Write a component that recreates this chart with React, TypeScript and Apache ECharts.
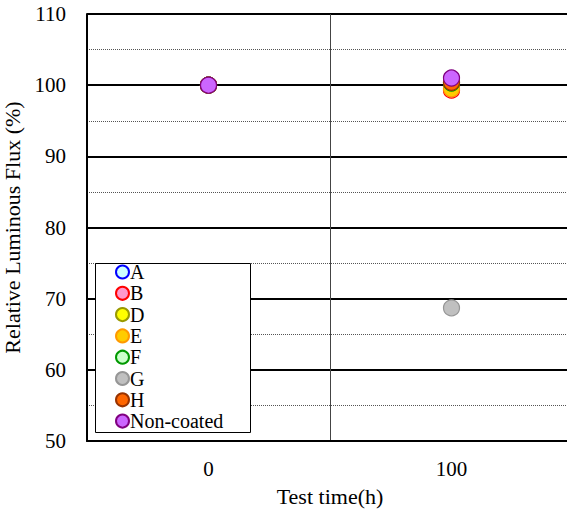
import React, { useEffect, useRef } from "react";
import * as echarts from "echarts";

const categories = ["0", "100"];
const seriesNames = ["A", "B", "D", "E", "F", "G", "H", "Non-coated"];
const valuesA = [100, 100.0];
const valuesB = [100, 99.3];
const valuesD = [100, 99.8];
const valuesE = [100, 99.5];
const valuesF = [100, 100.3];
const valuesG = [100, 68.7];
const valuesH = [100, 100.4];
const valuesNonCoated = [100, 101.0];
const fills = ["#ccffff", "#ff99cc", "#ffff00", "#ffcc00", "#ccffcc", "#c0c0c0", "#ff6600", "#cc66ff"];
const borders = ["#0000ff", "#ff0000", "#999900", "#ff9900", "#009900", "#969696", "#993300", "#800080"];
const allValues = [valuesA, valuesB, valuesD, valuesE, valuesF, valuesG, valuesH, valuesNonCoated];

const FONT = "'Liberation Serif', 'Times New Roman', Times, serif";

export default function App() {
  const ref = useRef<HTMLDivElement>(null);
  useEffect(() => {
    if (!ref.current) return;
    const chart = echarts.init(ref.current, undefined, { renderer: "svg" });
    chart.setOption({
      animation: false,
      backgroundColor: "#fff",
      textStyle: { fontFamily: FONT },
      grid: { left: 87, top: 14, width: 486, height: 427, containLabel: false, outerBoundsMode: "none" },
      xAxis: {
        type: "category",
        data: categories,
        boundaryGap: true,
        axisLine: { show: true, lineStyle: { color: "#000", width: 2 } },
        axisTick: { show: false },
        axisLabel: { fontSize: 21, color: "#000", margin: 17, fontFamily: FONT },
        splitLine: { show: true, lineStyle: { color: "#444", width: 1 } },
        name: "Test time(h)",
        nameLocation: "middle",
        nameGap: 44,
        nameTextStyle: { fontSize: 22, color: "#000", fontFamily: FONT },
      },
      yAxis: {
        type: "value",
        min: 50,
        max: 110,
        interval: 10,
        axisLine: { show: true, lineStyle: { color: "#000", width: 2 } },
        axisTick: { show: false },
        axisLabel: { fontSize: 21, color: "#000", margin: 21, fontFamily: FONT },
        splitLine: { show: true, lineStyle: { color: "#000", width: 2 } },
        minorTick: { show: false, splitNumber: 2 },
        minorSplitLine: { show: true, lineStyle: { color: "#555", width: 1, type: [1, 1] } },
        name: "Relative Luminous Flux (%)",
        nameLocation: "middle",
        nameGap: 57,
        nameTextStyle: { fontSize: 22, color: "#000", fontFamily: FONT },
      },
      graphic: [
        {
          type: "rect",
          z: 3,
          shape: { x: 95.5, y: 263.5, width: 155, height: 169 },
          style: { fill: "#fff", stroke: "#000", lineWidth: 1 },
        },
      ],
      legend: {
        show: true,
        orient: "vertical",
        left: 115,
        top: 262,
        z: 5,
        itemWidth: 13,
        itemHeight: 13,
        itemGap: 1.3,
        icon: "circle",
        padding: 0,
        data: seriesNames,
        textStyle: { fontSize: 20, color: "#000", fontFamily: FONT, padding: [0, 0, 0, -4] },
      },
      series: seriesNames.map((name, i) => ({
        name,
        type: "scatter",
        data: allValues[i],
        symbol: "circle",
        symbolSize: 16,
        itemStyle: { color: fills[i], borderColor: borders[i], borderWidth: 1.2, opacity: 1 },
        z: 2,
      })),
    });
    return () => chart.dispose();
  }, []);
  return <div ref={ref} style={{ position: "fixed", left: 0, top: 0, width: 567, height: 510 }} />;
}
